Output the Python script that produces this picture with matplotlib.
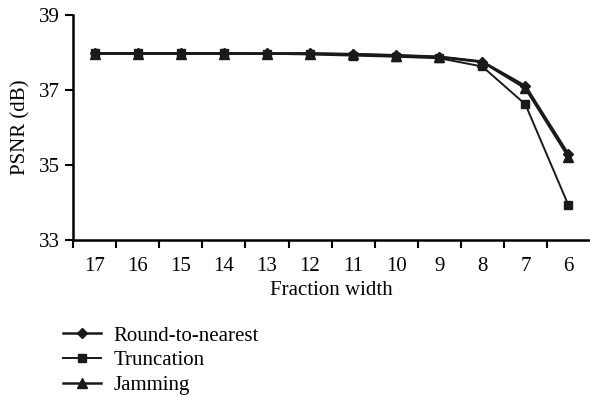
import matplotlib.pyplot as plt

plt.rcParams['font.family'] = ['Liberation Serif', 'DejaVu Serif']

fraction_width = ["17", "16", "15", "14", "13", "12", "11", "10", "9", "8", "7", "6"]
round_to_nearest = [37.98, 37.98, 37.98, 37.98, 37.98, 37.98, 37.96, 37.93, 37.89, 37.76, 37.11, 35.29]
truncation = [37.98, 37.98, 37.98, 37.98, 37.97, 37.95, 37.92, 37.89, 37.85, 37.63, 36.62, 33.93]
jamming = [37.97, 37.97, 37.97, 37.97, 37.97, 37.97, 37.95, 37.92, 37.88, 37.75, 37.05, 35.22]

fig = plt.figure(figsize=(5.9, 3.97), dpi=100)
ax = fig.add_axes([0.124, 0.395, 0.876, 0.567])

x = range(len(fraction_width))
ax.plot(x, round_to_nearest, color="#1a1a1a", lw=1.8, marker="D", ms=5.5, label="Round-to-nearest")
ax.plot(x, truncation, color="#1a1a1a", lw=1.4, marker="s", ms=5.5, label="Truncation")
ax.plot(x, jamming, color="#1a1a1a", lw=1.8, marker="^", ms=7.5, label="Jamming")

ax.set_xlim(-0.5, len(fraction_width) - 0.5)
ax.set_ylim(33, 39)
ax.set_yticks([33, 35, 37, 39])
ax.set_xticks([i + 0.5 for i in range(-1, len(fraction_width) - 1)])
ax.set_xticklabels([])
ax.set_xticks(list(x), minor=True)
ax.set_xticklabels(fraction_width, minor=True)
ax.tick_params(axis="x", which="minor", length=0, pad=12, labelsize=15)
ax.tick_params(axis="x", which="major", length=6, width=1.5, direction="out")
ax.tick_params(axis="y", length=6, width=1.5, direction="out", labelsize=15)

for side in ["top", "right"]:
    ax.spines[side].set_visible(False)
for side in ["left", "bottom"]:
    ax.spines[side].set_linewidth(1.8)

ax.set_xlabel("Fraction width", fontsize=15, labelpad=4)
ax.set_ylabel("PSNR (dB)", fontsize=15, labelpad=6)

fig.legend(loc="upper left", bbox_to_anchor=(0.092, 0.2), frameon=False,
           fontsize=15, handlelength=1.85, numpoints=1, labelspacing=0.25,
           handletextpad=0.6, borderaxespad=0)

fig.savefig("out.png", dpi=100)
plt.close(fig)
